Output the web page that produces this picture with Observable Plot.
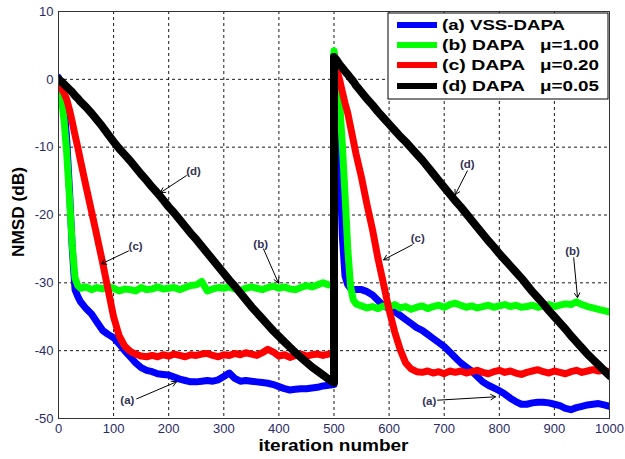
<!DOCTYPE html>
<html><head><meta charset="utf-8">
<script src="https://cdn.jsdelivr.net/npm/d3@7"></script>
<script src="https://cdn.jsdelivr.net/npm/@observablehq/plot@0.6"></script>
<style>body{margin:0;background:#fff;} svg{display:block}</style>
</head><body><div id="chart"></div>
<script>
const iterations = [
  0,5,10,15,20,25,30,35,40,50,60,70,80,90,100,110,120,130,140,150,160,170,180,190,200,
  210,220,230,240,250,260,270,280,290,300,310,320,330,340,350,360,370,380,390,400,
  410,420,430,440,450,460,470,480,490,500,
  500,505,510,515,520,525,530,535,540,550,560,570,580,590,600,610,620,630,640,650,
  660,670,680,690,700,710,720,730,740,750,760,770,780,790,800,810,820,830,840,850,
  860,870,880,890,900,910,920,930,940,950,960,970,980,990,1000
];
const vssDapa = [
  0.3,-1.0,-4.0,-9.0,-16.5,-25.0,-31.0,-32.0,-32.8,-33.8,-34.6,-35.8,-37.0,-37.6,-38.1,-39.0,-40.0,-40.9,-41.8,-42.5,-42.9,-43.1,-43.4,-43.5,-43.6,
  -43.9,-44.2,-44.4,-44.6,-44.6,-44.5,-44.4,-44.5,-44.3,-43.8,-43.3,-44.1,-44.5,-44.4,-44.5,-44.6,-44.7,-44.8,-45.0,-45.3,
  -45.6,-45.8,-45.7,-45.6,-45.6,-45.5,-45.4,-45.2,-45.1,-45.0,
  3.7,-2.0,-10.0,-23.0,-29.0,-30.3,-30.8,-31.0,-31.0,-31.0,-31.3,-31.8,-32.6,-33.4,-33.8,-34.2,-34.8,-35.4,-36.0,-36.6,
  -37.0,-37.6,-38.2,-38.8,-39.4,-40.2,-41.0,-41.8,-42.4,-43.0,-43.8,-44.6,-45.1,-45.5,-45.9,-46.4,-47.0,-47.5,-47.9,-47.9,
  -47.7,-47.6,-47.6,-47.7,-47.9,-48.1,-48.5,-48.7,-48.4,-48.2,-48.0,-47.9,-47.8,-48.0,-48.2
];
const dapaMu100 = [
  -0.8,-2.5,-6.0,-11.0,-17.5,-24.5,-29.3,-30.4,-30.8,-30.6,-31.0,-30.7,-30.9,-30.5,-30.8,-31.2,-30.9,-31.0,-31.2,-30.7,-31.0,-30.9,-30.6,-30.9,-30.8,
  -30.7,-31.0,-30.7,-30.4,-30.3,-29.8,-31.2,-30.9,-30.7,-30.8,-30.6,-30.9,-31.1,-30.8,-30.6,-30.8,-31.0,-30.7,-30.5,-30.8,
  -30.6,-30.9,-31.0,-30.7,-30.4,-30.6,-30.3,-30.0,-30.3,-30.4,
  4.2,1.0,-3.0,-9.5,-17.0,-25.0,-30.5,-32.5,-33.1,-33.4,-33.7,-33.5,-33.8,-33.4,-33.6,-33.2,-33.7,-33.5,-33.9,-33.6,
  -33.4,-33.8,-33.5,-33.3,-33.6,-33.2,-33.0,-33.3,-33.6,-33.4,-33.7,-33.5,-33.3,-33.6,-33.4,-33.2,-33.5,-33.3,-33.6,-33.5,
  -33.3,-33.6,-33.4,-33.2,-33.5,-33.3,-33.1,-33.2,-32.8,-33.2,-33.5,-33.7,-33.9,-34.1,-34.3
];
const dapaMu020 = [
  -1.0,-1.3,-2.0,-3.0,-4.5,-6.3,-8.2,-10.0,-12.0,-15.8,-19.5,-23.2,-27.0,-31.0,-35.0,-37.8,-39.3,-40.1,-40.5,-40.8,-40.9,-40.7,-40.9,-40.6,-40.8,
  -40.5,-40.7,-40.9,-40.6,-40.7,-40.5,-40.4,-40.7,-40.9,-40.6,-40.7,-40.4,-40.6,-40.3,-40.5,-40.7,-40.3,-39.8,-40.2,-40.8,
  -40.6,-41.0,-40.7,-40.5,-40.8,-40.6,-40.5,-40.7,-40.5,-40.4,
  2.7,1.5,0.0,-1.8,-3.5,-5.0,-7.0,-9.0,-11.0,-14.5,-18.5,-22.2,-26.5,-30.2,-34.0,-37.2,-39.8,-41.8,-42.7,-43.1,
  -43.2,-43.0,-43.3,-43.1,-43.4,-43.0,-43.2,-43.0,-43.3,-43.1,-42.9,-43.2,-43.4,-43.1,-42.9,-43.2,-43.0,-43.3,-43.5,-43.2,
  -43.0,-42.8,-43.1,-43.3,-43.0,-43.2,-43.4,-43.1,-42.9,-43.2,-43.0,-42.8,-43.0,-42.9,-43.1
];
const dapaMu005 = [
  0.0,-0.3,-0.7,-1.1,-1.5,-1.9,-2.4,-2.8,-3.3,-4.1,-5.0,-6.0,-7.0,-8.1,-9.2,-10.2,-11.1,-12.0,-13.0,-14.0,-14.9,-15.9,-16.8,-17.8,-18.8,
  -19.7,-20.7,-21.7,-22.7,-23.6,-24.6,-25.6,-26.6,-27.6,-28.6,-29.6,-30.5,-31.5,-32.5,-33.5,-34.4,-35.3,-36.2,-37.1,-37.9,
  -38.7,-39.5,-40.3,-41.0,-41.7,-42.4,-43.0,-43.6,-44.2,-44.7,
  3.3,2.8,2.2,1.7,1.2,0.7,0.2,-0.3,-0.9,-1.9,-2.9,-3.8,-4.8,-5.7,-6.6,-7.5,-8.4,-9.2,-10.1,-11.0,
  -11.9,-12.9,-13.9,-14.9,-15.9,-16.9,-17.9,-18.8,-19.8,-20.8,-21.8,-22.8,-23.8,-24.7,-25.7,-26.6,-27.5,-28.4,-29.3,-30.3,
  -31.3,-32.2,-33.1,-34.1,-35.0,-35.9,-36.8,-37.8,-38.7,-39.6,-40.5,-41.3,-42.1,-42.9,-43.7
];
const seriesNames = ["(a) VSS-DAPA", "(b) DAPA", "(c) DAPA", "(d) DAPA"];
const seriesMu = ["", "\u03bc=1.00", "\u03bc=0.20", "\u03bc=0.05"];
const seriesColors = ["#0000ff", "#00ff00", "#ff0000", "#000000"];
const xTicks = [0,100,200,300,400,500,600,700,800,900,1000];
const yTicks = [-50,-40,-30,-20,-10,0,10];
const xLabel = "iteration number";
const yLabel = "NMSD (dB)";
const annLabels = ["(d)","(c)","(b)","(a)","(d)","(c)","(b)","(a)"];
const annX = [245,140,367,125,742,652,933,673];
const annY = [-13.5,-24.6,-24.3,-47.3,-12.5,-23.5,-25.4,-47.4];
const arrowFromX = [232,127,372,142,742,642,935,688];
const arrowFromY = [-14.2,-25.3,-25.0,-47.1,-13.5,-24.4,-26.3,-47.3];
const arrowToX = [185,78,399,214,720,590,942,793];
const arrowToY = [-16.7,-27.2,-30.0,-44.6,-17.0,-26.6,-32.2,-46.8];

const seriesValues = [vssDapa, dapaMu100, dapaMu020, dapaMu005];
const lines = seriesValues.map((vals, s) => Plot.line(
  iterations.map((it, i) => ({it, v: vals[i]})),
  {x: "it", y: "v", stroke: seriesColors[s], strokeWidth: s === 3 ? 8 : 7,
   strokeLinejoin: "round", strokeLinecap: "round", clip: true}
));
const ann = annLabels.map((t, i) => ({t, x: annX[i], y: annY[i], x1: arrowFromX[i], y1: arrowFromY[i], x2: arrowToX[i], y2: arrowToY[i]}));

const chart = Plot.plot({
  width: 625, height: 459,
  marginLeft: 58, marginRight: 16, marginTop: 11, marginBottom: 41,
  style: {fontFamily: "'Liberation Sans', Arial, sans-serif", background: "white"},
  x: {domain: [0, 1000], label: null},
  y: {domain: [-50, 10], label: null},
  marks: [
    Plot.gridX(xTicks.slice(1, -1), {stroke: "black", strokeOpacity: 0.9, strokeDasharray: "3,3"}),
    Plot.gridY(yTicks.slice(1, -1), {stroke: "black", strokeOpacity: 0.9, strokeDasharray: "3,3"}),
    Plot.axisX(xTicks, {tickSize: 0, tickPadding: 5, fontSize: 13, color: "#2a2a66", label: null, tickFormat: d => String(d)}),
    Plot.axisY(yTicks, {tickSize: 0, tickPadding: 5, fontSize: 13, color: "#2a2a66", label: null, tickFormat: d => String(d)}),
    ...lines,
    Plot.frame({stroke: "#333"}),
    Plot.arrow(ann, {x1: "x1", y1: "y1", x2: "x2", y2: "y2", stroke: "black", strokeWidth: 1, headLength: 8}),
    Plot.text(ann, {x: "x", y: "y", text: "t", fontSize: 11.5, fontWeight: "bold", fill: "#333355"})
  ]
});
document.getElementById("chart").appendChild(chart);

const svg = d3.select(chart);
const fam = "'Liberation Sans', Arial, sans-serif";
// axis titles
svg.append("text").attr("x", 333.5).attr("y", 451).attr("text-anchor", "middle")
  .attr("font-family", fam).attr("font-weight", "bold").attr("font-size", 16)
  .attr("textLength", 150).attr("lengthAdjust", "spacingAndGlyphs").attr("fill", "black").text(xLabel);
svg.append("text").attr("transform", "translate(24,212) rotate(-90)").attr("text-anchor", "middle")
  .attr("font-family", fam).attr("font-weight", "bold").attr("font-size", 16)
  .attr("textLength", 90).attr("lengthAdjust", "spacingAndGlyphs").attr("fill", "black").text(yLabel);
// legend
const lg = svg.append("g").attr("text-anchor", "start");
lg.append("rect").attr("x", 388).attr("y", 13).attr("width", 220).attr("height", 86)
  .attr("fill", "white").attr("stroke", "black").attr("stroke-width", 1);
const rowY = [25, 45, 65, 86];
const nameLen = [123, 83, 83, 83];
seriesNames.forEach((name, i) => {
  lg.append("line").attr("x1", 397).attr("x2", 437).attr("y1", rowY[i]).attr("y2", rowY[i])
    .attr("stroke", seriesColors[i]).attr("stroke-width", 6);
  lg.append("text").attr("x", 442).attr("y", rowY[i]).attr("dy", "0.36em").attr("text-anchor", "start")
    .attr("font-family", fam).attr("font-weight", "bold").attr("font-size", 15)
    .attr("textLength", nameLen[i]).attr("lengthAdjust", "spacingAndGlyphs").text(name);
  if (seriesMu[i]) {
    lg.append("text").attr("x", 540).attr("y", rowY[i]).attr("dy", "0.36em").attr("text-anchor", "start")
      .attr("font-family", fam).attr("font-weight", "bold").attr("font-size", 15)
      .attr("textLength", 59).attr("lengthAdjust", "spacingAndGlyphs").text(seriesMu[i]);
  }
});
</script></body></html>
